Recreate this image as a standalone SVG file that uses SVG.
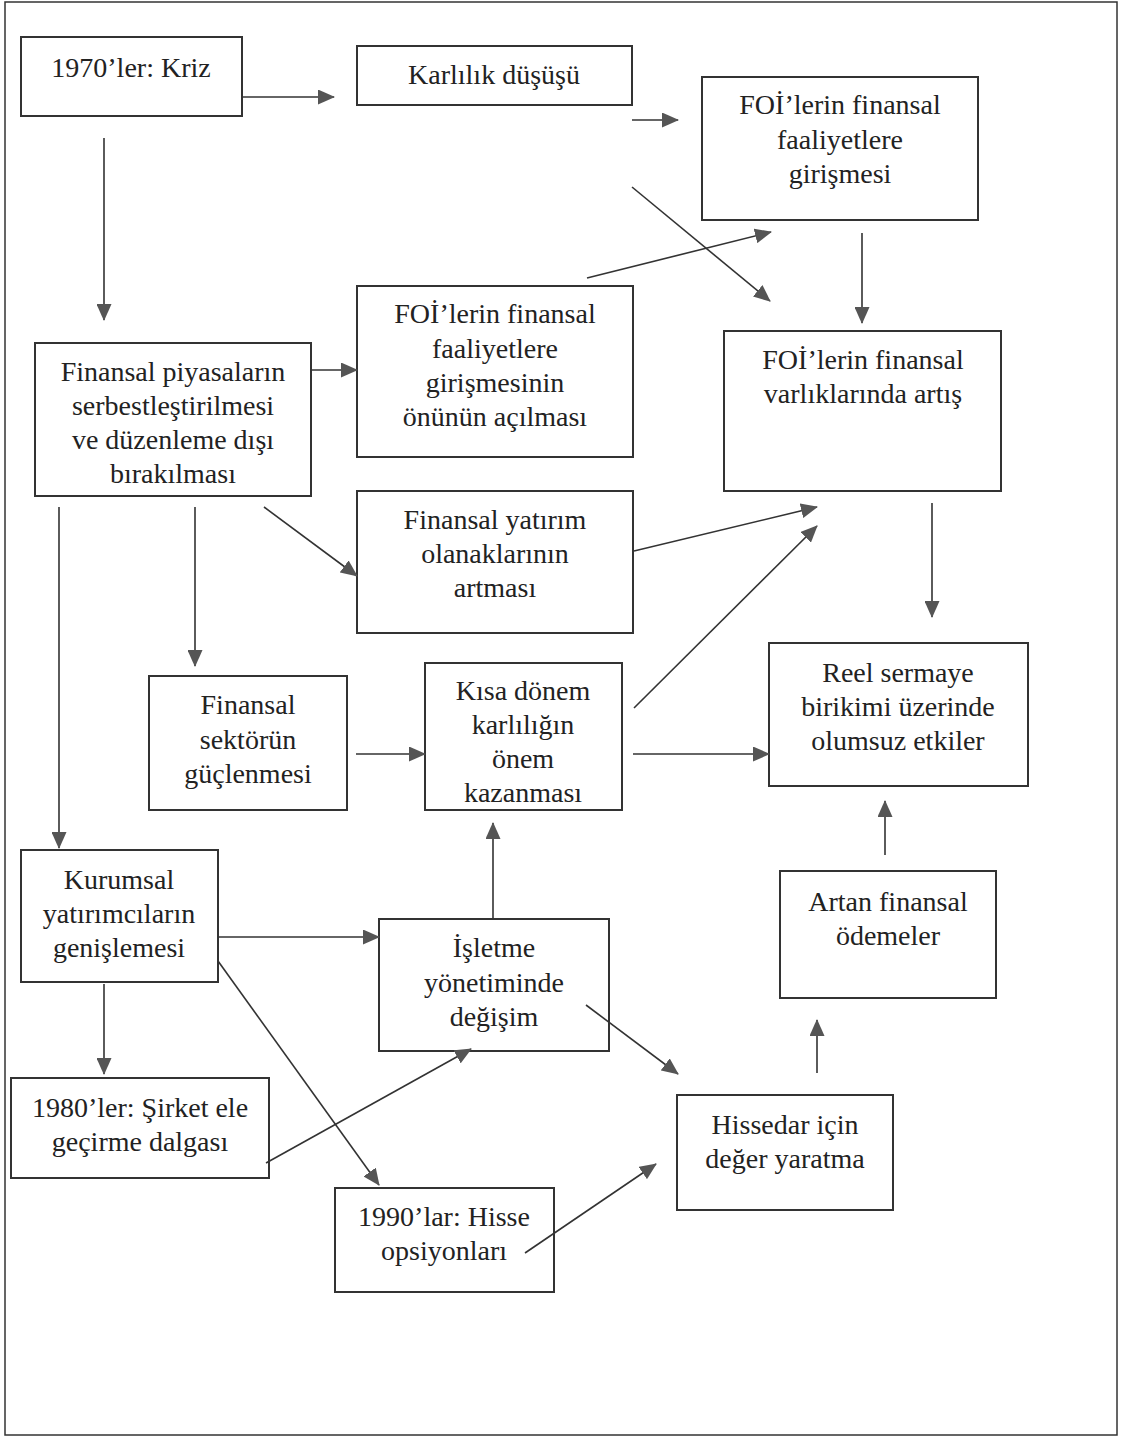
<svg xmlns="http://www.w3.org/2000/svg" width="1122" height="1438" viewBox="0 0 1122 1438">
<defs>
<marker id="ah" markerWidth="17" markerHeight="15" refX="16" refY="7.5" orient="auto" markerUnits="userSpaceOnUse">
<path d="M0,0 L17,7.5 L0,15 z" fill="#555"/>
</marker>
<style>
.box{fill:#fff;stroke:#333;stroke-width:2}
.t{font-family:"Liberation Serif","DejaVu Serif",serif;font-size:28px;fill:#222;text-anchor:middle}
.c{stroke:#333;stroke-width:1.6;fill:none;marker-end:url(#ah)}
</style>
</defs>
<rect x="0" y="0" width="1122" height="1438" fill="#fff"/>
<rect x="5" y="2" width="1112" height="1433" fill="none" stroke="#333" stroke-width="1.5"/>

<g id="n1"><rect class="box" x="21" y="37" width="221" height="79"/><text class="t" x="131" y="77">1970’ler: Kriz</text></g>
<g id="n2"><rect class="box" x="357" y="46" width="275" height="59"/><text class="t" x="494" y="84">Karlılık düşüşü</text></g>
<g id="n3"><rect class="box" x="702" y="77" width="276" height="143"/><text class="t" x="840"><tspan x="840" y="114">FOİ’lerin finansal</tspan><tspan x="840" y="149">faaliyetlere</tspan><tspan x="840" y="183">girişmesi</tspan></text></g>
<g id="n4"><rect class="box" x="357" y="286" width="276" height="171"/><text class="t" x="495"><tspan x="495" y="323">FOİ’lerin finansal</tspan><tspan x="495" y="358">faaliyetlere</tspan><tspan x="495" y="392">girişmesinin</tspan><tspan x="495" y="426">önünün açılması</tspan></text></g>
<g id="n5"><rect class="box" x="724" y="331" width="277" height="160"/><text class="t" x="863"><tspan x="863" y="369">FOİ’lerin finansal</tspan><tspan x="863" y="403">varlıklarında artış</tspan></text></g>
<g id="n6"><rect class="box" x="35" y="343" width="276" height="153"/><text class="t" x="173"><tspan x="173" y="381">Finansal piyasaların</tspan><tspan x="173" y="415">serbestleştirilmesi</tspan><tspan x="173" y="449">ve düzenleme dışı</tspan><tspan x="173" y="483">bırakılması</tspan></text></g>
<g id="n7"><rect class="box" x="357" y="491" width="276" height="142"/><text class="t" x="495"><tspan x="495" y="529">Finansal yatırım</tspan><tspan x="495" y="563">olanaklarının</tspan><tspan x="495" y="597">artması</tspan></text></g>
<g id="n8"><rect class="box" x="149" y="676" width="198" height="134"/><text class="t" x="248"><tspan x="248" y="714">Finansal</tspan><tspan x="248" y="749">sektörün</tspan><tspan x="248" y="783">güçlenmesi</tspan></text></g>
<g id="n9"><rect class="box" x="425" y="663" width="197" height="147"/><text class="t" x="523"><tspan x="523" y="700">Kısa dönem</tspan><tspan x="523" y="734">karlılığın</tspan><tspan x="523" y="768">önem</tspan><tspan x="523" y="802">kazanması</tspan></text></g>
<g id="n10"><rect class="box" x="769" y="643" width="259" height="143"/><text class="t" x="898"><tspan x="898" y="682">Reel sermaye</tspan><tspan x="898" y="716">birikimi üzerinde</tspan><tspan x="898" y="750">olumsuz etkiler</tspan></text></g>
<g id="n11"><rect class="box" x="21" y="850" width="197" height="132"/><text class="t" x="119"><tspan x="119" y="889">Kurumsal</tspan><tspan x="119" y="923">yatırımcıların</tspan><tspan x="119" y="957">genişlemesi</tspan></text></g>
<g id="n12"><rect class="box" x="379" y="919" width="230" height="132"/><text class="t" x="494"><tspan x="494" y="957">İşletme</tspan><tspan x="494" y="992">yönetiminde</tspan><tspan x="494" y="1026">değişim</tspan></text></g>
<g id="n13"><rect class="box" x="780" y="871" width="216" height="127"/><text class="t" x="888"><tspan x="888" y="911">Artan finansal</tspan><tspan x="888" y="945">ödemeler</tspan></text></g>
<g id="n14"><rect class="box" x="11" y="1078" width="258" height="100"/><text class="t" x="140"><tspan x="140" y="1117">1980’ler: Şirket ele</tspan><tspan x="140" y="1151">geçirme dalgası</tspan></text></g>
<g id="n15"><rect class="box" x="677" y="1095" width="216" height="115"/><text class="t" x="785"><tspan x="785" y="1134">Hissedar için</tspan><tspan x="785" y="1168">değer yaratma</tspan></text></g>
<g id="n16"><rect class="box" x="335" y="1188" width="219" height="104"/><text class="t" x="444"><tspan x="444" y="1226">1990’lar: Hisse</tspan><tspan x="444" y="1260">opsiyonları</tspan></text></g>

<g id="connectors">
<line class="c" x1="242" y1="97" x2="334" y2="97"/>
<line class="c" x1="632" y1="120" x2="678" y2="120"/>
<line class="c" x1="632" y1="187" x2="770" y2="301"/>
<line class="c" x1="587" y1="278" x2="771" y2="232"/>
<line class="c" x1="862" y1="233" x2="862" y2="323"/>
<line class="c" x1="104" y1="138" x2="104" y2="320"/>
<line class="c" x1="311" y1="370" x2="357" y2="370"/>
<line class="c" x1="264" y1="507" x2="357" y2="576"/>
<line class="c" x1="59" y1="507" x2="59" y2="848"/>
<line class="c" x1="195" y1="507" x2="195" y2="666"/>
<line class="c" x1="634" y1="551" x2="817" y2="507"/>
<line class="c" x1="634" y1="708" x2="817" y2="526"/>
<line class="c" x1="356" y1="754" x2="425" y2="754"/>
<line class="c" x1="633" y1="754" x2="769" y2="754"/>
<line class="c" x1="932" y1="503" x2="932" y2="617"/>
<line class="c" x1="885" y1="855" x2="885" y2="801"/>
<line class="c" x1="493" y1="919" x2="493" y2="823"/>
<line class="c" x1="218" y1="937" x2="379" y2="937"/>
<line class="c" x1="218" y1="961" x2="379" y2="1185"/>
<line class="c" x1="104" y1="984" x2="104" y2="1074"/>
<line class="c" x1="266" y1="1163" x2="471" y2="1049"/>
<line class="c" x1="586" y1="1005" x2="678" y2="1074"/>
<line class="c" x1="525" y1="1253" x2="656" y2="1164"/>
<line class="c" x1="817" y1="1073" x2="817" y2="1020"/>
</g>
</svg>
